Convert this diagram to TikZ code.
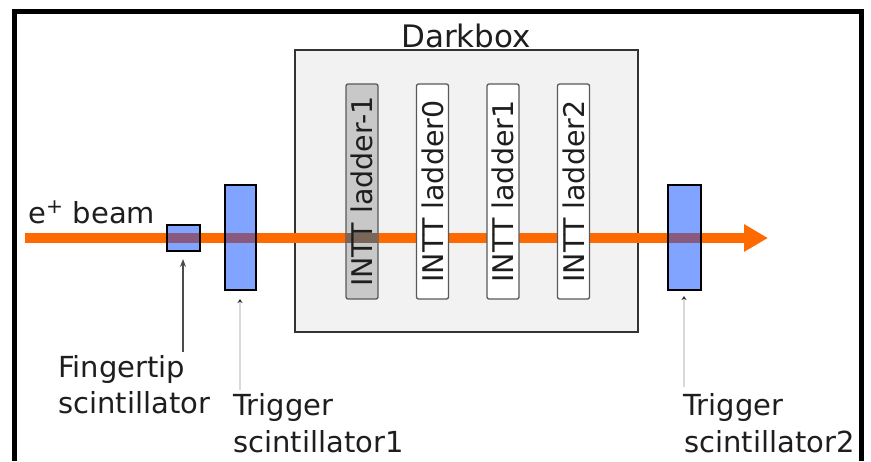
\documentclass[tikz,border=0pt]{standalone}
\usepackage{fontspec}
\setmainfont{DejaVu Sans}
\usetikzlibrary{arrows.meta}
\definecolor{beamc}{HTML}{FF6A00}
\definecolor{scintc}{HTML}{80A4FF}
\definecolor{mixc}{HTML}{8A5A7E}
\definecolor{boxfill}{HTML}{F2F2F2}
\definecolor{txtc}{HTML}{1E1E1E}
\definecolor{ladgray}{HTML}{C8C8C8}
\definecolor{ladmix}{HTML}{7A6658}
\begin{document}
\begin{tikzpicture}[x=1pt,y=-1pt,
 lbl/.style={anchor=base west,inner sep=0pt,text=txtc,font=\fontsize{29}{36}\selectfont},
 ladder/.style={draw=black!65,line width=1.3pt,rounded corners=2pt,minimum width=215pt,minimum height=32pt,inner sep=0pt,rotate=90},
 ladtext/.style={rotate=90,inner sep=0pt,text=txtc,font=\fontsize{28.5}{30}\selectfont},
 scint/.style={fill=scintc,inner sep=0pt},
 scintedge/.style={draw=black,line width=1.6pt},
 ptr/.style={draw=black!70,line width=1.2pt,-{Stealth[length=8pt,width=6pt]}},
 ptrlight/.style={draw=black!15,line width=1.5pt,-{Stealth[length=4pt,width=5pt,color=black!80]}},
]
\useasboundingbox (0,0) rectangle (871,461);
% frame
\draw[line width=5pt] (14.5,461) -- (14.5,11.5) -- (861.5,11.5) -- (861.5,461);
% darkbox
\node[draw=black!80,line width=2.5pt,fill=boxfill,minimum width=343pt,minimum height=282pt,inner sep=0pt] (dark) at (466.5,191) {};
\node[anchor=base,inner sep=0pt,text=txtc,font=\fontsize{31}{36}\selectfont] (darklbl) at (466,47) {Darkbox};
% beam
\coordinate (bs) at (25,238);
\coordinate (be) at (768,238);
\draw[beamc,line width=10pt,-{Triangle[length=24pt,width=26pt]}] (bs) -- (be);
\node[lbl] (beamlbl) at (28,223) {e\textsuperscript{+} beam};
% ladders
\node[ladder,fill=ladgray] (Lm1) at (362,191.5) {};
\fill[ladmix] (346,233) rectangle (378,243);
\node[ladtext] (Lm1t) at (Lm1.center) {INTT ladder-1};
\node[ladder,fill=white] (L0) at (432.5,191.5) {};
\node[ladtext] (L0t) at (L0.center) {INTT ladder0};
\node[ladder,fill=white] (L1) at (503,191.5) {};
\node[ladtext] (L1t) at (L1.center) {INTT ladder1};
\node[ladder,fill=white] (L2) at (573.5,191.5) {};
\node[ladtext] (L2t) at (L2.center) {INTT ladder2};
% scintillators
\node[scint,minimum width=33pt,minimum height=26pt] (fing) at (183.5,238) {};
\node[scint,minimum width=31pt,minimum height=105pt] (trig1) at (240.5,237.5) {};
\node[scint,minimum width=33pt,minimum height=105pt] (trig2) at (684.5,237.5) {};
\foreach \n in {fing,trig1,trig2}{
  \fill[mixc] (\n.west |- 0,233) rectangle (\n.east |- 0,243);
  \draw[scintedge] (\n.south west) rectangle (\n.north east);
}
% labels
\node[lbl] (fl1) at (58,377) {Fingertip};
\node[lbl] (fl2) at (58,413) {scintillator};
\node[lbl] (t1l1) at (233,415) {Trigger};
\node[lbl] (t1l2) at (233,452) {scintillator1};
\node[lbl] (t2l1) at (683,415) {Trigger};
\node[lbl] (t2l2) at (684,452) {scintillator2};
% pointers
\coordinate (fpa) at (183,352);
\coordinate (fpb) at (183,259);
\draw[ptr] (fpa) -- (fpb);
\coordinate (t1a) at (240,390);
\coordinate (t1b) at (240,299);
\draw[ptrlight] (t1a) -- (t1b);
\coordinate (t2a) at (684,387);
\coordinate (t2b) at (684,296);
\draw[ptrlight] (t2a) -- (t2b);
\end{tikzpicture}
\end{document}
